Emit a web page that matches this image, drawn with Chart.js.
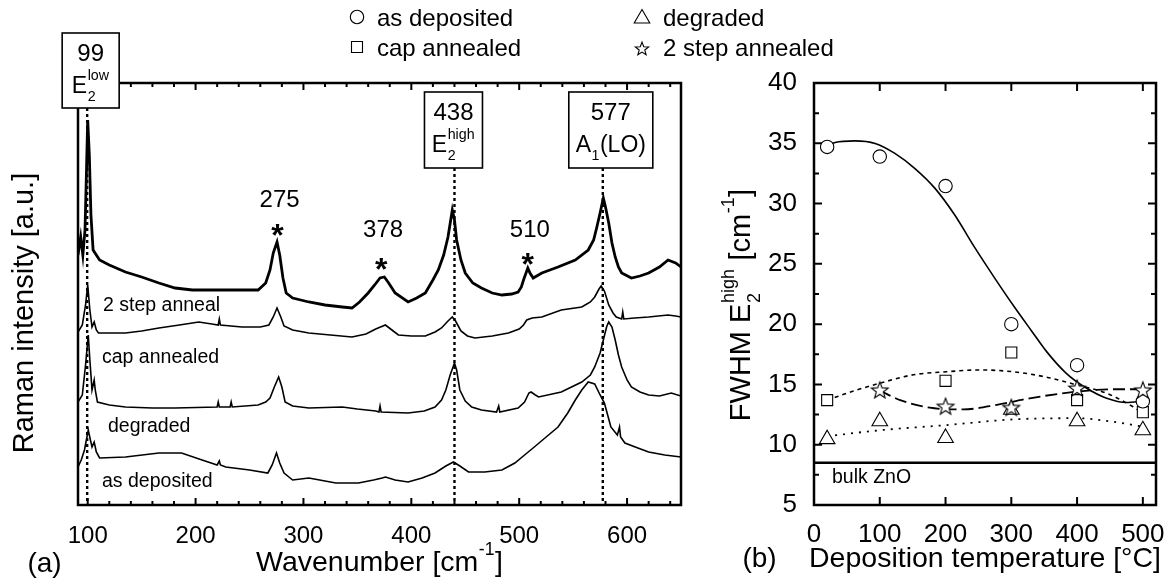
<!DOCTYPE html>
<html>
<head>
<meta charset="utf-8">
<script src="https://cdn.jsdelivr.net/npm/chart.js@4.4.1/dist/chart.umd.min.js"></script>
<style>
  html, body { margin: 0; padding: 0; background: #fff; }
  #wrap { position: relative; width: 1175px; height: 580px; }
  #wrap canvas { position: absolute; left: 0; top: 0; }
</style>
</head>
<body>
<div id="wrap">
  <canvas id="ramanChart" width="1175" height="580"></canvas>
  <canvas id="fwhmChart" width="1175" height="580"></canvas>
</div>
<script>
// (a) Raman spectra, [wavenumber, intensity a.u.], traces already stacked
const twoStepSpectrum = [
  [91,250],[93.5,268],[95.5,250],[97.5,275],[99,340],[100,385],[101.5,350],[103,290],[105,255],[108,250],
  [111,245],[120,240],[135,233],[150,228],[166,222],[181,217],[197,215],[228,215],[258,215],[265,222],
  [269,235],[272,252],[275.5,263],[278,250],[281,227],[284,212],[290,207],[305,203],[320,200],[336,198],
  [345,197],[352,203],[360,212],[366,220],[371,227],[375,228],[379,222],[385,212],[397,203],[405,207],
  [413,212],[420,225],[425,235],[430,250],[434,268],[438,295],[440,285],[442,265],[446,245],[450,232],
  [457,222],[465,217],[475,212],[484,210],[493,211],[499,213],[502,218],[504,225],[508,237],[510,232],
  [513,227],[521,232],[536,238],[552,245],[564,255],[569,265],[572,278],[575,292],[578,307],[580,298],
  [583,282],[586,262],[589,248],[592,238],[595,232],[604,227],[612,229],[620,232],[630,238],[638,245],
  [645,242],[650,238]
];
const capAnnealedSpectrum = [
  [91,173],[95,180],[98,200],[100,220],[102,195],[104,178],[106,183],[108,175],[110,172],[135,172],
  [150,174],[166,177],[185,180],[203,183],[215,181],[221,180],[222,186],[223,180],[243,178],[260,178],
  [268,180],[272,188],[275.5,197],[279,188],[282,179],[290,175],[305,172],[325,170],[345,168],[358,171],
  [367,176],[376,180],[382,175],[388,170],[400,169],[413,169],[422,173],[428,177],[434,184],[438,188],
  [441,184],[446,174],[452,169],[459,167],[475,169],[490,172],[500,176],[504,180],[507,185],[512,187],
  [521,188],[539,195],[558,198],[566,203],[570,208],[574,216],[576,219],[579,214],[583,200],[587,192],
  [590,188],[595,186],[596,193],[597,186],[607,187],[620,188],[638,190],[645,189],[650,188]
];
const degradedSpectrum = [
  [91,103],[95,110],[98,140],[100.5,170],[102,145],[104,115],[106,125],[107,115],[109,103],[120,100],
  [135,98],[160,97],[181,97],[220,98],[221,103],[222,98],[232,98],[233,103],[234,98],[258,100],
  [265,103],[269,107],[273,118],[277,128],[280,118],[283,103],[290,99],[305,97],[336,98],[350,96],
  [367,94],[370,93],[371,99],[372,93],[397,92],[412,94],[422,98],[428,105],[432,115],[436,130],
  [440,142],[442,135],[445,115],[450,104],[456,98],[465,95],[479,93],[481,99],[482,93],[499,97],
  [505,103],[509,112],[511,113],[515,110],[518,108],[539,113],[558,123],[566,130],[570,138],[575,152],
  [578,165],[581,178],[583,183],[586,178],[589,165],[592,150],[595,138],[600,125],[604,118],[612,113],
  [620,110],[630,109],[641,112],[650,109]
];
const asDepositedSpectrum = [
  [91,38],[94,45],[97,55],[100.5,75],[102.5,65],[104,58],[106,63],[108,53],[111,47],[135,48],
  [166,52],[187,52],[206,45],[220,40],[222,44],[223,40],[228,38],[250,35],[267,32],[271,40],
  [275,52],[278,42],[282,32],[290,25],[305,27],[315,25],[330,22],[351,22],[365,25],[373,27],
  [376,28],[385,25],[397,23],[410,27],[422,32],[432,39],[439,43],[445,39],[453,33],[468,33],
  [484,35],[496,42],[505,50],[514,58],[525,68],[536,78],[545,92],[552,105],[558,115],[564,123],
  [570,121],[575,110],[579,102],[582,90],[585,78],[591,70],[593,78],[594,68],[598,62],[610,57],
  [620,53],[635,50],[650,48]
];
const spectrumNames = ['2 step anneal', 'cap annealed', 'degraded', 'as deposited'];
const modePositions = [99.5, 440, 577.5];
const modeNumbers = ['99', '438', '577'];
const impurityPositions = [276, 372, 508];
const impurityNumbers = ['275', '378', '510'];
const wavenumberTicks = [100, 200, 300, 400, 500, 600];

// (b) FWHM of E2 high vs deposition temperature
const depositionTemps = [20, 100, 200, 300, 400, 500];
const fwhmAsDeposited = [34.7, 33.9, 31.45, 20.0, 16.6, 13.6];
const fwhmCapAnnealed = [13.7, null, 15.3, 17.65, 13.7, 12.7];
const fwhmDegraded = [10.46, 11.95, 10.56, 12.9, 11.95, 11.2];
const fwhmTwoStep = [null, 14.55, 13.2, 13.1, 14.7, 14.55];
const fitAsDeposited = [[20,34.75],[32,35.07],[62,35.2],[93,34.99],[123,34.16],[153.5,32.9],[184,31.26],[214,29.05],[245,26.3],[275,23.8],[305,21.4],[330,19.5],[354,17.7],[384,15.9],[414,14.7],[445,13.85],[475,13.5],[500,13.6]];
const fitCapAnnealed = [[20,13.7],[60,14.45],[100,15.1],[151,15.8],[201,16.05],[252,16.2],[303,16.05],[354,15.6],[400,14.95],[445,14.26],[485,13.15],[500,12.6]];
const fitTwoStep = [[100,14.5],[131,13.7],[176,13.07],[227,12.93],[278,13.3],[328,13.85],[400,14.4],[455,14.6],[500,14.6]];
const fitDegraded = [[20,10.7],[100,11.2],[202,11.63],[303,12.1],[400,12.2],[455,11.9],[500,11.5]];
const bulkZnO = 8.5;
const legendNames = ['as deposited', 'cap annealed', 'degraded', '2 step annealed'];
const tempTicks = [0, 100, 200, 300, 400, 500];
const fwhmTicks = [5, 10, 15, 20, 25, 30, 35, 40];

const FONT = "'Liberation Sans', Arial, Helvetica, sans-serif";
Chart.defaults.font.family = FONT;
Chart.defaults.color = '#000';

function toPoints(pairs) { return pairs.map(([x, y]) => ({ x, y })); }
function zipPoints(xs, ys) { return xs.map((x, i) => ({ x, y: ys[i] })).filter(p => p.y !== null); }

// text with sub/superscripts: parts are strings or {sup, sub}
function partsWidth(ctx, parts, size) {
  let w = 0;
  for (const p of parts) {
    if (typeof p === 'string') { ctx.font = size + 'px ' + FONT; w += ctx.measureText(p).width; }
    else {
      ctx.font = (size * 0.62) + 'px ' + FONT;
      w += Math.max(ctx.measureText(p.sup || '').width, ctx.measureText(p.sub || '').width) + 1;
    }
  }
  return w;
}
function drawRich(ctx, parts, size, x, y, align) {
  let cx = x;
  const w = partsWidth(ctx, parts, size);
  if (align === 'center') cx -= w / 2;
  else if (align === 'right') cx -= w;
  ctx.textAlign = 'left';
  ctx.textBaseline = 'alphabetic';
  for (const p of parts) {
    if (typeof p === 'string') {
      ctx.font = size + 'px ' + FONT;
      ctx.fillText(p, cx, y);
      cx += ctx.measureText(p).width;
    } else {
      ctx.font = (size * 0.62) + 'px ' + FONT;
      if (p.sup) ctx.fillText(p.sup, cx + 0.5, y - size * 0.55);
      if (p.sub) ctx.fillText(p.sub, cx + 0.5, y + size * 0.33);
      cx += Math.max(ctx.measureText(p.sup || '').width, ctx.measureText(p.sub || '').width) + 1;
    }
  }
}

function markerPath(ctx, kind, x, y, r) {
  ctx.beginPath();
  if (kind === 'circle') ctx.arc(x, y, r, 0, Math.PI * 2);
  else if (kind === 'square') ctx.rect(x - r, y - r, 2 * r, 2 * r);
  else if (kind === 'triangle') {
    ctx.moveTo(x, y - r); ctx.lineTo(x + r * 0.866, y + r / 2); ctx.lineTo(x - r * 0.866, y + r / 2); ctx.closePath();
  } else if (kind === 'star') {
    const cy = y + r * 0.095;
    for (let i = 0; i < 10; i++) {
      const rad = i % 2 ? r * 0.42 : r;
      const ang = -Math.PI / 2 + i * Math.PI / 5;
      const px = x + rad * Math.cos(ang), py = cy + rad * Math.sin(ang);
      if (i) ctx.lineTo(px, py); else ctx.moveTo(px, py);
    }
    ctx.closePath();
  }
}
function drawMarker(ctx, kind, x, y, r) {
  markerPath(ctx, kind, x, y, r);
  ctx.fillStyle = '#fff'; ctx.fill();
  ctx.lineWidth = 1.1; ctx.strokeStyle = '#000'; ctx.stroke();
}
function makeStar(R) {
  const c = document.createElement('canvas');
  const s = Math.ceil(2 * R + 4);
  c.width = s; c.height = s;
  drawMarker(c.getContext('2d'), 'star', s / 2, s / 2, R);
  return c;
}

function fixTicks(values) { return s => { s.ticks = values.map(v => ({ value: v })); }; }

// ---------- panel (a) decorations ----------
const modeBoxes = [
  { dx: -25, w: 57, top: 33, h: 75 },
  { dx: -30, w: 58, top: 92, h: 76 },
  { dx: -34, w: 84, top: 92, h: 76 }
];
const modeSymbols = [['E', { sup: 'low', sub: '2' }], ['E', { sup: 'high', sub: '2' }], ['A', { sub: '1' }, '(LO)']];
const impurityStarY = [227.5, 261.5, 256.5];
const impurityTextY = [206.5, 236.5, 236.5];
const spectrumLabelPos = [[103, 311], [102, 363], [108, 432], [102, 487]];

const ramanDecor = {
  id: 'ramanDecor',
  beforeDatasetsDraw(chart) {
    const { ctx, chartArea: a, scales: { x } } = chart;
    ctx.save();
    ctx.setLineDash([3, 3]);
    ctx.lineWidth = 2.4;
    ctx.strokeStyle = '#000';
    modePositions.forEach((v, i) => {
      const px = x.getPixelForValue(v);
      ctx.beginPath();
      ctx.moveTo(px, modeBoxes[i].top + modeBoxes[i].h);
      ctx.lineTo(px, a.bottom);
      ctx.stroke();
    });
    ctx.restore();
  },
  afterDraw(chart) {
    const { ctx, chartArea: a, scales: { x } } = chart;
    ctx.save();
    ctx.strokeStyle = '#000';
    ctx.fillStyle = '#000';
    // frame
    ctx.lineWidth = 2.5;
    ctx.strokeRect(a.left, a.top, a.right - a.left, a.bottom - a.top);
    // inward ticks, top and bottom
    ctx.lineWidth = 2;
    for (let v = 100; v <= 650; v += 20) {
      const px = x.getPixelForValue(v);
      const len = v % 100 === 0 ? 7 : 4;
      ctx.beginPath();
      ctx.moveTo(px, a.bottom); ctx.lineTo(px, a.bottom - len);
      ctx.moveTo(px, a.top); ctx.lineTo(px, a.top + len);
      ctx.stroke();
    }
    // mode boxes
    modePositions.forEach((v, i) => {
      const b = modeBoxes[i];
      const left = x.getPixelForValue(v) + b.dx;
      ctx.fillStyle = '#fff';
      ctx.fillRect(left, b.top, b.w, b.h);
      ctx.lineWidth = 1.6;
      ctx.strokeRect(left, b.top, b.w, b.h);
      ctx.fillStyle = '#000';
      drawRich(ctx, [modeNumbers[i]], 24, left + b.w / 2, b.top + 27.5, 'center');
      drawRich(ctx, modeSymbols[i], 23, left + b.w / 2, b.top + 60, 'center');
    });
    // impurity modes
    impurityPositions.forEach((v, i) => {
      const px = x.getPixelForValue(v);
      ctx.textAlign = 'center';
      ctx.textBaseline = 'alphabetic';
      ctx.font = '24px ' + FONT;
      ctx.fillText(impurityNumbers[i], px + 2, impurityTextY[i]);
      ctx.font = 'bold 32px ' + FONT;
      ctx.fillText('*', px, impurityStarY[i] + 18.5);
    });
    // trace labels
    ctx.textAlign = 'left';
    ctx.font = '19.5px ' + FONT;
    spectrumNames.forEach((n, i) => ctx.fillText(n, spectrumLabelPos[i][0], spectrumLabelPos[i][1]));
    // axis titles
    drawRich(ctx, ['Wavenumber [cm', { sup: '-1' }, ']'], 28.5, (a.left + a.right) / 2, 571, 'center');
    drawRich(ctx, ['(a)'], 28, 44.5, 572, 'center');
    ctx.translate(33, 313);
    ctx.rotate(-Math.PI / 2);
    drawRich(ctx, ['Raman intensity [a.u.]'], 29, 0, 0, 'center');
    ctx.restore();
  }
};

const traceStyle = (pairs, width) => ({
  data: toPoints(pairs), borderColor: '#000', borderWidth: width, pointRadius: 0, fill: false, tension: 0
});

new Chart(document.getElementById('ramanChart'), {
  type: 'line',
  data: {
    datasets: [
      traceStyle(twoStepSpectrum, 2.8),
      traceStyle(capAnnealedSpectrum, 1.6),
      traceStyle(degradedSpectrum, 1.6),
      traceStyle(asDepositedSpectrum, 1.6)
    ]
  },
  options: {
    responsive: false,
    animation: false,
    devicePixelRatio: 1,
    layout: { padding: { left: 0, top: 83, right: 494, bottom: 0 } },
    plugins: { legend: { display: false }, tooltip: { enabled: false } },
    scales: {
      x: {
        type: 'linear', min: 91, max: 650,
        afterBuildTicks: fixTicks(wavenumberTicks),
        afterFit: s => { s.height = 75; },
        grid: { display: false }, border: { display: false },
        ticks: { font: { size: 24 }, color: '#000', padding: 9, maxRotation: 0, autoSkip: false }
      },
      y: {
        min: 0, max: 422,
        afterFit: s => { s.width = 78; },
        grid: { display: false }, border: { display: false },
        ticks: { display: false }
      }
    }
  },
  plugins: [ramanDecor]
});

// ---------- panel (b) ----------
const legendItems = [
  { kind: 'circle', r: 6.7, x: 357, y: 17, tx: 377, ty: 26 },
  { kind: 'square', r: 5.5, x: 357, y: 47, tx: 377, ty: 56 },
  { kind: 'triangle', r: 9, x: 642, y: 18.5, tx: 663, ty: 26 },
  { kind: 'star', r: 7, x: 642, y: 48.5, tx: 663, ty: 56 }
];

const fwhmDecor = {
  id: 'fwhmDecor',
  afterDraw(chart) {
    const { ctx, chartArea: a, scales: { x, y } } = chart;
    ctx.save();
    ctx.strokeStyle = '#000';
    ctx.fillStyle = '#000';
    ctx.lineWidth = 2.5;
    ctx.strokeRect(a.left, a.top, a.right - a.left, a.bottom - a.top);
    ctx.lineWidth = 2;
    for (let v = 5; v <= 40; v += 2.5) {
      const py = y.getPixelForValue(v);
      const len = v % 5 === 0 ? 8 : 5;
      ctx.beginPath();
      ctx.moveTo(a.left, py); ctx.lineTo(a.left + len, py);
      ctx.moveTo(a.right, py); ctx.lineTo(a.right - len, py);
      ctx.stroke();
    }
    tempTicks.forEach(v => {
      const px = x.getPixelForValue(v);
      ctx.beginPath();
      ctx.moveTo(px, a.bottom); ctx.lineTo(px, a.bottom - 8);
      ctx.moveTo(px, a.top); ctx.lineTo(px, a.top + 8);
      ctx.stroke();
    });
    ctx.font = '19.5px ' + FONT;
    ctx.textAlign = 'left';
    ctx.textBaseline = 'alphabetic';
    ctx.fillText('bulk ZnO', 832, 483);
    // legend
    legendItems.forEach((it, i) => {
      drawMarker(ctx, it.kind, it.x, it.y, it.r);
      ctx.fillStyle = '#000';
      ctx.font = '24px ' + FONT;
      ctx.textAlign = 'left';
      ctx.fillText(legendNames[i], it.tx, it.ty);
    });
    // titles
    drawRich(ctx, ['Deposition temperature [°C]'], 28.5, (a.left + a.right) / 2, 567, 'center');
    drawRich(ctx, ['(b)'], 28, 759.5, 567, 'center');
    ctx.translate(750, 305);
    ctx.rotate(-Math.PI / 2);
    drawRich(ctx, ['FWHM E', { sup: 'high', sub: '2' }, ' [cm', { sup: '-1' }, ']'], 29, 0, 0, 'center');
    ctx.restore();
  }
};

const markerSet = (label, ys, style, radius, order) => ({
  label, data: zipPoints(depositionTemps, ys), pointStyle: style, pointRadius: radius,
  pointBackgroundColor: '#fff', pointBorderColor: '#000', pointBorderWidth: 1.1, showLine: false, order
});
const fitSet = (pairs, dash, width) => ({
  data: toPoints(pairs), showLine: true, pointRadius: 0, borderColor: '#000', borderWidth: width,
  borderDash: dash, cubicInterpolationMode: 'monotone', fill: false, order: 5
});

new Chart(document.getElementById('fwhmChart'), {
  type: 'scatter',
  data: {
    datasets: [
      markerSet(legendNames[0], fwhmAsDeposited, 'circle', 6.7, 1),
      markerSet(legendNames[1], fwhmCapAnnealed, 'rect', 7.8, 1),
      markerSet(legendNames[2], fwhmDegraded, 'triangle', 9, 1),
      markerSet(legendNames[3], fwhmTwoStep, makeStar(8.8), 9, 0),
      fitSet(fitAsDeposited, [], 1.6),
      fitSet(fitCapAnnealed, [4, 4], 1.6),
      fitSet(fitTwoStep, [12, 5], 1.8),
      fitSet(fitDegraded, [2, 6], 1.8),
      fitSet([[0, bulkZnO], [520, bulkZnO]], [], 2.6)
    ]
  },
  options: {
    responsive: false,
    animation: false,
    devicePixelRatio: 1,
    layout: { padding: { left: 0, top: 83, right: 19, bottom: 0 } },
    plugins: { legend: { display: false }, tooltip: { enabled: false } },
    scales: {
      x: {
        type: 'linear', min: 0, max: 520,
        afterBuildTicks: fixTicks(tempTicks),
        afterFit: s => { s.height = 75; },
        grid: { display: false }, border: { display: false },
        ticks: { font: { size: 26 }, color: '#000', padding: 6, maxRotation: 0, autoSkip: false }
      },
      y: {
        min: 5, max: 40,
        afterBuildTicks: fixTicks(fwhmTicks),
        afterFit: s => { s.width = 814; },
        grid: { display: false }, border: { display: false },
        ticks: { font: { size: 26 }, color: '#000', padding: 9, autoSkip: false }
      }
    }
  },
  plugins: [fwhmDecor]
});
</script>
</body>
</html>
